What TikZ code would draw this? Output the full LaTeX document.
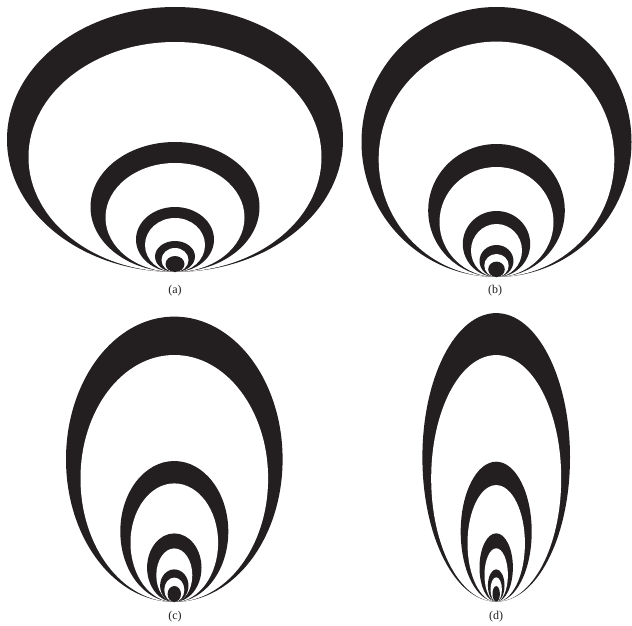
\documentclass[tikz,border=0pt]{standalone}
\usepackage{fontspec}
\setmainfont{Liberation Serif}
\definecolor{ink}{HTML}{231F20}
\tikzset{
  blk/.style={fill=ink},
  wht/.style={fill=white},
  caption/.style={font=\fontsize{12}{14}\selectfont, text=ink, inner sep=0pt}
}
% cx, bottom, black a, black b, white a, white b
\newcommand\crestlevel[6]{%
  \fill[blk] (#1,#2-#4) ellipse [x radius=#3pt, y radius=#4pt];
  \fill[wht] (#1,#2-#6) ellipse [x radius=#5pt, y radius=#6pt];}
\newcommand\crestdot[4]{%
  \fill[blk] (#1,#2-#4) ellipse [x radius=#3pt, y radius=#4pt];}
\begin{document}
\begin{tikzpicture}[x=1pt,y=-1pt]
\useasboundingbox[fill=white] (0,0) rectangle (632,626);
% panel (a)
\crestlevel{175}{272}{168}{132.5}{146.5}{115}
\crestlevel{175}{272}{84.5}{65}{69.5}{54.5}
\crestlevel{175}{272}{39}{32.5}{30}{27}
\crestlevel{175}{272}{20}{15.5}{13.5}{12}
\crestdot{175}{272}{9.5}{8}
\node[caption] (la) at (175,291) {(a)};
% panel (b)
\crestlevel{496.5}{277}{135}{135}{117.8}{117.7}
\crestlevel{496.5}{277}{68.3}{66.5}{57}{55}
\crestlevel{496.5}{277}{33.7}{33}{25.5}{26.5}
\crestlevel{496.5}{277}{17}{16}{12.2}{11.5}
\crestdot{496.5}{277}{8.3}{7.7}
\node[caption] (lb) at (495,291) {(b)};
% panel (c)
\crestlevel{174.3}{602}{108.3}{142.7}{93.8}{123.5}
\crestlevel{174.3}{602}{54}{70.5}{43.8}{59.3}
\crestlevel{174.3}{602}{27.2}{34.3}{18}{26.8}
\crestlevel{174.3}{602}{14.2}{16.3}{10}{12.2}
\crestdot{174.3}{602}{6.7}{8}
\node[caption] (lc) at (175,616.5) {(c)};
% panel (d)
\crestlevel{496.2}{601.7}{73.8}{144.3}{65}{123.3}
\crestlevel{496.2}{601.7}{35.5}{70}{28.7}{58.3}
\crestlevel{496.2}{601.7}{16.7}{34.2}{11.7}{26.7}
\crestlevel{496.2}{601.7}{8.3}{16.2}{5.7}{12.2}
\crestdot{496.2}{601.7}{3.7}{7.8}
\node[caption] (ld) at (496,616.5) {(d)};
\end{tikzpicture}
\end{document}
